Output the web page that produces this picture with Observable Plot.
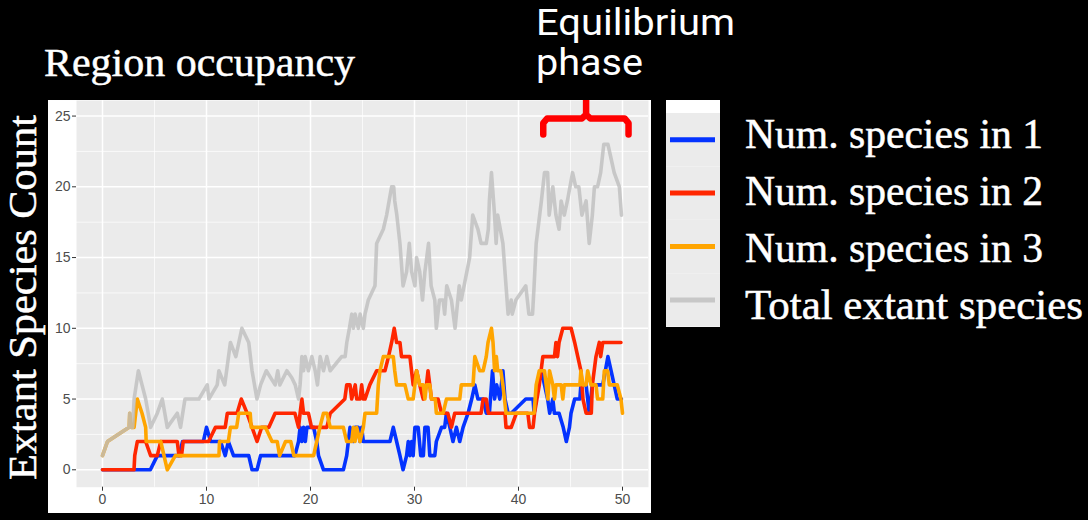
<!DOCTYPE html>
<html>
<head>
<meta charset="utf-8">
<script src="https://cdn.jsdelivr.net/npm/d3@7"></script>
<script src="https://cdn.jsdelivr.net/npm/@observablehq/plot@0.6"></script>
<style>
  html, body { margin: 0; padding: 0; background: #000; }
  #page { position: relative; width: 1088px; height: 520px; background: #000; overflow: hidden; }
  #chart { position: absolute; left: 48px; top: 100px; }
  #overlay { position: absolute; left: 0; top: 0; }
</style>
</head>
<body>
<div id="page">
  <div id="chart"></div>
  <svg id="overlay" width="1088" height="520"></svg>
</div>
<script>
// ---------- data ----------
const seriesNames = ["Num. species in 1", "Num. species in 2", "Num. species in 3", "Total extant species"];
const seriesColors = ["#0433ff", "#ff2600", "#ffa500", "#bebebe"];

const region1T = [0,4.6,5.27,7.35,7.7,9.7,10.0,10.4,11.35,11.8,12.1,12.6,14.06,14.38,14.86,15.2,18.5,18.85,19.0,19.17,19.33,19.5,19.65,20.3,20.6,20.77,21.25,23.16,23.48,23.64,23.8,24.12,24.28,24.6,24.76,24.92,25.08,27.64,27.96,28.28,28.6,28.9,29.24,29.4,29.56,29.72,29.87,30.04,30.35,30.6,30.85,31.0,31.3,31.47,31.95,32.1,32.6,32.9,33.07,33.4,33.7,34.03,34.35,34.67,35.15,35.5,35.8,36.1,36.6,36.9,37.2,37.5,37.7,37.9,38.2,38.5,38.7,39.0,39.3,40.7,41.4,41.5,41.9,42.2,42.5,42.8,43.0,43.3,43.45,43.9,44.3,44.6,44.9,45.05,45.4,45.9,46.0,46.5,46.8,47.1,48.1,48.6,48.9,49.2,49.5,49.9];
const region1V = [0,0,1,1,2,2,3,2,2,1,2,1,1,0,0,1,1,2,3,2,3,2,3,3,2,1,0,0,1,2,3,2,3,3,2,3,2,2,3,2,1,0,1,2,1,2,1,3,3,1,1,3,3,1,1,2,3,3,4,3,2,3,2,3,4,5,6,5,5,4,4,7,5,6,5,7,5,4,4,5,5,4,6,7,6,5,4,5,4,4,3,2,3,4,5,5,6,6,4,6,6,8,7,6,5,5];

const region2T = [0,3.03,3.1,3.35,4.15,4.63,5.27,5.6,7.19,7.35,7.6,7.76,10.2,10.86,11.8,12.0,12.94,13.35,13.9,14.38,14.86,15.3,16.0,16.6,18.5,18.85,19.0,19.17,19.33,19.8,20.1,21.57,21.9,23.3,23.48,23.8,23.96,24.3,24.44,24.76,24.92,25.08,25.24,25.7,26.36,27.16,27.5,27.8,28.05,28.28,28.6,28.75,29.56,29.87,30.2,30.5,30.84,31.15,31.3,31.47,31.63,32.27,32.6,33.2,33.55,33.87,36.4,36.6,36.9,37.1,38.7,38.8,39.3,39.8,40.9,41.06,41.4,41.54,42.0,42.34,43.46,43.6,43.75,43.9,44.26,45.06,45.4,45.7,46.0,46.2,46.5,47.0,47.1,47.45,47.77,47.9,48.1,49.85];
const region2V = [0,0,1,2,2,1,1,2,2,1,1,2,2,3,3,4,4,5,4,3,2,3,3,4,4,3,4,5,4,4,3,3,4,5,6,6,5,6,5,5,6,5,5,6,7,7,8,9,10,9,9,8,8,6,7,6,5,6,7,6,5,5,4,4,3,4,4,5,5,4,4,3,3,4,4,3,3,4,6,8,8,9,8,9,10,10,9,8,7,5,4,4,6,8,9,8,9,9];

const region3T = [0,0.48,2.56,2.62,2.78,3.04,3.35,3.8,4.15,4.2,5.6,6.23,7.0,11.2,11.25,12.1,12.3,12.9,13.1,14.2,14.3,15.66,16.3,16.8,17.03,17.6,18.1,18.4,20.3,20.6,20.9,21.25,21.57,21.9,23.16,23.48,23.96,24.12,24.28,24.44,24.76,25.08,25.24,26.36,26.52,26.68,27.0,27.96,28.1,28.28,29.08,29.4,29.87,30.04,30.2,30.5,30.84,31.0,31.15,31.47,31.63,32.0,32.1,32.75,33.07,34.35,34.5,35.63,35.8,36.27,36.6,36.9,37.07,37.4,37.55,37.7,37.87,38.0,38.3,38.5,38.8,41.5,41.7,42.0,42.5,42.66,42.82,42.98,43.3,43.46,43.6,44.1,44.26,44.4,45.9,46.0,46.2,46.5,46.65,46.97,47.45,47.6,48.1,48.25,48.57,48.73,49.5,49.85,50];
const region3V = [1,2,3,4,3,3,5,4,3,2,2,0,1,1,2,2,3,3,4,4,3,3,2,2,1,2,2,1,1,2,3,4,4,3,3,2,2,3,2,3,2,3,4,4,6,7,8,8,7,6,6,5,5,6,7,6,6,5,6,6,5,5,4,4,5,5,6,6,8,7,7,8,9,10,9,7,8,7,7,6,4,4,6,7,7,6,5,7,6,5,6,6,5,6,6,7,6,6,7,6,6,5,5,7,7,6,6,5,4];

const totalT = [0,0.48,2.56,2.62,2.78,2.9,3.04,3.45,3.8,4.15,4.63,5.27,5.75,6.23,7.19,7.5,7.93,9.27,10.07,10.23,11.03,11.19,11.75,12.3,12.82,13.4,14.06,14.38,14.85,15.2,15.75,16.6,16.85,17.05,17.73,18.2,18.53,18.85,19.0,19.17,19.33,19.49,19.8,20.13,20.45,20.67,20.93,21.25,21.57,21.89,23.0,23.33,23.49,23.74,23.97,24.13,24.29,24.6,24.77,25.08,25.24,25.56,26.2,26.36,27.0,27.32,27.8,28.0,28.1,28.3,28.6,28.9,29.24,29.5,29.72,30.04,30.2,30.5,30.77,31.0,31.35,31.6,31.95,32.1,32.4,32.75,32.9,33.1,33.55,33.9,34.3,34.5,35.3,35.6,36.1,36.4,36.9,37.1,37.2,37.4,37.7,37.85,38.0,38.5,38.8,39.0,39.3,39.4,39.75,40.7,41.0,41.35,41.5,41.7,42.2,42.5,42.8,42.95,43.3,43.6,43.9,44.1,44.4,44.7,45.2,45.5,45.8,46.1,46.5,46.8,47.1,47.3,47.6,47.9,48.2,48.6,48.9,49.2,49.7,49.9];
const totalV = [1,2,3,4,3,3,5,7,6,5,3,4,5,3,4,3,5,5,6,5,6,7,6,9,8,10,9,7,5,6,7,6,7,6,7,6.5,6,5,6,8,7,8,7,8,7,6,8,7,8,7,8,8,9,10,11,10,11,10,11,10,11,12,13,16,17,18,20,20,19,18,16,13,14,16,14,13,15,14,12,14,16,13,12,10,12,12,11,13,12,10,13,12,15,18,17,16,16,17,19,21,18,16,18,16,13,11,12,11,12,13,11,11,13,16,19,21,21,18,20,18,17,19,18,19,21,20,20,18,19,16,18,20,20,21,23,23,22,21,20,18];

// axis ticks
const xTicks = [0, 10, 20, 30, 40, 50];
const xMinor = [5, 15, 25, 35, 45];
const yTicks = [0, 5, 10, 15, 20, 25];
const yMinor = [2.5, 7.5, 12.5, 17.5, 22.5];

// equilibrium brace annotation
const braceT = [42.38, 42.38, 42.75, 46.1, 46.5, 46.5, 46.5, 46.9, 50.2, 50.58, 50.58];
const braceV = [23.7, 24.5, 24.83, 24.83, 25.1, 26.2, 25.1, 24.83, 24.83, 24.5, 23.7];

// ---------- build tables ----------
const toRows = (T, V) => T.map((t, i) => ({t, v: V[i]}));
const series = [
  toRows(region1T, region1V),
  toRows(region2T, region2V),
  toRows(region3T, region3V),
  toRows(totalT, totalV)
];
const brace = toRows(braceT, braceV);

const chart = Plot.plot({
  width: 603,
  height: 413,
  marginLeft: 28,
  marginRight: 3,
  marginTop: 0,
  marginBottom: 26.3,
  style: { background: "#ffffff", fontFamily: "'Liberation Sans', Arial, sans-serif", fontSize: "14px", color: "#4d4d4d" },
  x: { domain: [-2.5, 52.5], label: null },
  y: { domain: [-1.23, 26.1], label: null },
  marks: [
    Plot.frame({ fill: "#ebebeb", stroke: null }),
    Plot.ruleX(xMinor, { stroke: "#ffffff", strokeWidth: 0.7 }),
    Plot.ruleY(yMinor, { stroke: "#ffffff", strokeWidth: 0.7 }),
    Plot.ruleX(xTicks, { stroke: "#ffffff", strokeWidth: 1.5 }),
    Plot.ruleY(yTicks, { stroke: "#ffffff", strokeWidth: 1.5 }),
    Plot.axisX({ ticks: xTicks, tickSize: 4, tickPadding: 3, stroke: "#333333", fill: "#4d4d4d", fontSize: 14, label: null }),
    Plot.axisY({ ticks: yTicks, tickSize: 4, tickPadding: 2, stroke: "#333333", fill: "#4d4d4d", fontSize: 14, label: null }),
    Plot.line(series[0], { x: "t", y: "v", stroke: seriesColors[0], strokeWidth: 3.6, strokeLinejoin: "round" }),
    Plot.line(series[1], { x: "t", y: "v", stroke: seriesColors[1], strokeWidth: 3.6, strokeLinejoin: "round" }),
    Plot.line(series[2], { x: "t", y: "v", stroke: seriesColors[2], strokeWidth: 3.6, strokeLinejoin: "round" }),
    Plot.line(series[3], { x: "t", y: "v", stroke: seriesColors[3], strokeWidth: 3.6, strokeOpacity: 0.8, strokeLinejoin: "round" }),
    Plot.line(brace, { x: "t", y: "v", stroke: "#ff0000", strokeWidth: 6.5, strokeLinejoin: "round", clip: true })
  ]
});
document.getElementById("chart").appendChild(chart);

// ---------- overlay texts and legend ----------
const ov = d3.select("#overlay");
const serif = "'Liberation Serif', 'Times New Roman', serif";

function label(x, y, txt, family, size, len, transform) {
  const t = ov.append("text")
    .attr("font-family", family).attr("font-size", size).attr("fill", "#fff")
    .attr("stroke", "#fff").attr("stroke-width", family === serif ? 0.5 : 0)
    .attr("textLength", len).attr("lengthAdjust", "spacingAndGlyphs")
    .text(txt);
  if (transform) t.attr("transform", transform).attr("text-anchor", "middle");
  else t.attr("x", x).attr("y", y);
  return t;
}

label(44, 76, "Region occupancy", serif, 41, 311);
label(536, 35, "Equilibrium", "Roboto, sans-serif", 37.5, 199);
label(536, 75, "phase", "Roboto, sans-serif", 37.5, 107);
label(0, 0, "Extant Species Count", serif, 40, 365, "translate(36,297.5) rotate(-90)");

// legend
const lg = ov.append("g");
lg.append("rect").attr("x", 666).attr("y", 100).attr("width", 54).attr("height", 227).attr("fill", "#ffffff");
const keyTop = 113, keyH = 53.4;
const legendLens = [298, 298, 298, 338];
seriesNames.forEach((name, i) => {
  const cy = keyTop + keyH * i + keyH / 2;
  lg.append("rect").attr("x", 666).attr("y", keyTop + keyH * i).attr("width", 54).attr("height", keyH).attr("fill", "#ebebeb");
  lg.append("line").attr("x1", 670).attr("x2", 715).attr("y1", cy).attr("y2", cy)
    .attr("stroke", seriesColors[i]).attr("stroke-width", 5)
    .attr("stroke-opacity", i === 3 ? 0.8 : 1);
  label(745, 148 + 57 * i, name, serif, 41.5, legendLens[i]);
});
</script>
</body>
</html>
